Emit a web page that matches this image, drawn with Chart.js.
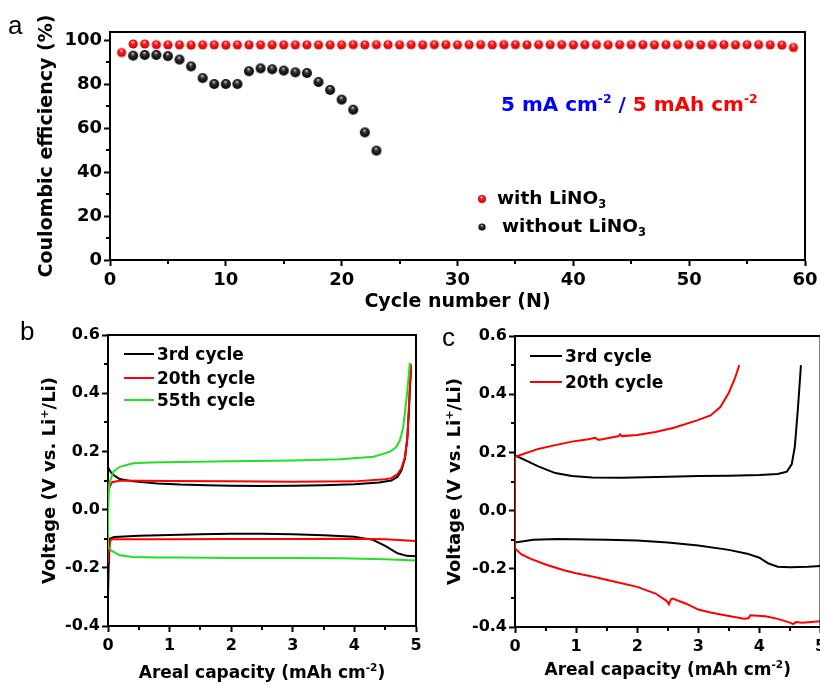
<!DOCTYPE html>
<html>
<head>
<meta charset="utf-8">
<script src="https://cdn.jsdelivr.net/npm/chart.js@4.4.0/dist/chart.umd.min.js"></script>
<style>
  html, body { margin: 0; padding: 0; background: #fff; }
  #page { position: relative; width: 820px; height: 686px; overflow: hidden; background: #fff; }
  canvas { position: absolute; }
</style>
</head>
<body>
<div id="page">
  <canvas id="chartA" width="820" height="320" style="left:0;top:0"></canvas>
  <canvas id="chartB" width="430" height="366" style="left:0;top:320px"></canvas>
  <canvas id="chartC" width="420" height="366" style="left:420px;top:320px"></canvas>
</div>
<script>
// ---------- (a) Coulombic efficiency vs cycle number ----------
const cycleWith = [1,2,3,4,5,6,7,8,9,10,11,12,13,14,15,16,17,18,19,20,
  21,22,23,24,25,26,27,28,29,30,31,32,33,34,35,36,37,38,39,40,
  41,42,43,44,45,46,47,48,49,50,51,52,53,54,55,56,57,58,59];
const ceWithLiNO3 = [94.3,98.2,98.2,97.9,97.8,97.8,97.7,97.8,97.8,97.7,
  97.8,97.8,97.8,97.8,97.8,97.8,97.8,97.8,97.8,97.8,
  97.9,97.8,97.9,97.9,97.8,97.9,97.8,97.9,97.9,97.8,
  97.9,97.9,97.8,97.9,97.9,97.8,97.9,97.9,97.9,97.8,
  97.9,97.9,97.8,97.9,97.9,97.9,97.8,97.9,97.9,97.9,
  97.8,97.9,97.9,97.8,97.9,97.9,97.8,97.7,96.6];
const cycleWithout = [2,3,4,5,6,7,8,9,10,11,12,13,14,15,16,17,18,19,20,21,22,23];
const ceWithoutLiNO3 = [92.9,93.2,93.2,92.7,91.1,88.0,82.7,80.0,80.0,80.0,
  85.8,87.1,86.7,86.1,85.3,85.0,80.9,77.3,72.9,68.3,58.0,49.7];
const cycleTicks = [0,10,20,30,40,50,60];
const ceTicks = [0,20,40,60,80,100];

// ---------- (b) voltage profiles with LiNO3 ----------
const b3DisCap = [0,0.01,0.03,0.1,0.5,1.0,1.5,2.0,2.5,3.0,3.5,4.0,4.3,4.5,4.7,4.85,5.0];
const b3DisV   = [-0.30,-0.20,-0.10,-0.094,-0.09,-0.087,-0.085,-0.083,-0.083,-0.085,-0.088,-0.093,-0.104,-0.125,-0.15,-0.159,-0.16];
const b3ChgCap = [0,0.04,0.09,0.19,0.41,0.8,1.17,1.6,2.0,2.5,3.0,3.5,4.0,4.4,4.6,4.7,4.76,4.82,4.86,4.88,4.9,4.92];
const b3ChgV   = [0.145,0.13,0.119,0.105,0.097,0.09,0.086,0.084,0.082,0.081,0.082,0.084,0.087,0.093,0.1,0.113,0.132,0.175,0.245,0.32,0.41,0.49];

const b20DisCap = [0,0.02,0.05,0.2,1.0,2.0,3.0,4.0,4.5,5.0];
const b20DisV   = [-0.183,-0.12,-0.102,-0.102,-0.102,-0.101,-0.101,-0.1,-0.102,-0.108];
const b20ChgCap = [0,0.03,0.065,0.19,0.5,1.0,2.0,3.0,4.0,4.5,4.6,4.7,4.76,4.82,4.86,4.88,4.9,4.92];
const b20ChgV   = [0.056,0.08,0.094,0.099,0.099,0.098,0.097,0.096,0.097,0.104,0.108,0.122,0.14,0.18,0.25,0.33,0.42,0.5];

const b55DisCap = [0,0.05,0.19,0.41,0.8,1.17,2.0,3.0,3.77,4.5,5.0];
const b55DisV   = [-0.128,-0.14,-0.157,-0.163,-0.165,-0.165,-0.166,-0.166,-0.167,-0.171,-0.175];
const b55ChgCap = [0,0.02,0.086,0.19,0.41,0.68,1.17,2.0,3.0,3.77,4.31,4.58,4.68,4.74,4.79,4.82,4.85,4.875,4.9];
const b55ChgV   = [0.0,0.09,0.13,0.147,0.159,0.162,0.164,0.166,0.169,0.173,0.182,0.199,0.215,0.239,0.28,0.332,0.39,0.445,0.505];

// ---------- (c) voltage profiles without LiNO3 ----------
const c3DisCap = [0,0.3,0.7,1.5,2.0,2.5,3.0,3.5,3.8,4.0,4.15,4.3,4.5,4.8,5.0];
const c3DisV   = [-0.11,-0.1,-0.098,-0.1,-0.103,-0.11,-0.12,-0.135,-0.148,-0.162,-0.182,-0.193,-0.195,-0.193,-0.19];
const c3ChgCap = [0,0.15,0.38,0.66,0.93,1.26,1.75,2.5,3.0,3.5,4.0,4.3,4.45,4.53,4.58,4.63,4.68];
const c3ChgV   = [0.19,0.175,0.152,0.129,0.119,0.114,0.113,0.116,0.119,0.12,0.122,0.126,0.134,0.16,0.22,0.35,0.5];

const c20DisCap = [0,0.1,0.25,0.5,0.8,1.0,1.3,1.6,2.0,2.3,2.48,2.52,2.55,2.58,2.8,3.0,3.2,3.5,3.75,3.82,3.85,4.1,4.3,4.5,4.55,4.6,4.7,5.0];
const c20DisV   = [-0.13,-0.15,-0.165,-0.185,-0.205,-0.215,-0.228,-0.243,-0.262,-0.285,-0.31,-0.322,-0.305,-0.302,-0.32,-0.34,-0.35,-0.362,-0.372,-0.37,-0.36,-0.363,-0.372,-0.385,-0.39,-0.383,-0.385,-0.38];
const c20ChgCap = [0,0.1,0.38,0.66,0.93,1.2,1.31,1.37,1.45,1.7,1.72,1.75,2.0,2.3,2.6,2.98,3.2,3.36,3.5,3.6,3.67];
const c20ChgV   = [0.185,0.192,0.212,0.225,0.237,0.245,0.25,0.243,0.246,0.256,0.262,0.256,0.26,0.27,0.285,0.31,0.327,0.356,0.405,0.455,0.5];

const capTicks = [0,1,2,3,4,5];
const voltTicks = [-0.4,-0.2,0.0,0.2,0.4,0.6];

// ---------- helpers ----------
const FAM = "'DejaVu Sans', 'Liberation Sans', sans-serif";
const BLACK = '#000000', RED = '#ff0000', GREEN = '#22e022', BLUE = '#0000ff';

function fontStr(size, weight) { return (weight || 'bold') + ' ' + size + 'px ' + FAM; }

// text made of runs; a run may be raised ('sup') or lowered ('sub')
function drawRich(ctx, parts, x, baseY, size, align) {
  ctx.textBaseline = 'alphabetic';
  ctx.textAlign = 'left';
  const runs = parts.map(p => {
    const s = p.s ? size * 0.62 : size;
    ctx.font = fontStr(s);
    return { p, s, w: ctx.measureText(p.t).width };
  });
  const total = runs.reduce((a, r) => a + r.w, 0);
  let cx = align === 'center' ? x - total / 2 : (align === 'right' ? x - total : x);
  runs.forEach(r => {
    ctx.font = fontStr(r.s);
    ctx.fillStyle = r.p.c || BLACK;
    const dy = r.p.s === 'sup' ? -size * 0.42 : (r.p.s === 'sub' ? size * 0.24 : 0);
    ctx.fillText(r.p.t, cx, baseY + dy);
    cx += r.w;
  });
}
function drawVertical(ctx, parts, cx, cy, size) {
  ctx.save();
  ctx.translate(cx, cy);
  ctx.rotate(-Math.PI / 2);
  drawRich(ctx, parts, 0, size * 0.36, size, 'center');
  ctx.restore();
}
function drawLetter(ctx, t, x, baseY, size) {
  ctx.font = 'normal ' + size + "px 'Liberation Sans', Arial, sans-serif";
  ctx.fillStyle = BLACK;
  ctx.textAlign = 'left';
  ctx.textBaseline = 'alphabetic';
  ctx.fillText(t, x, baseY);
}

function makeBall(r, light, mid, edge) {
  const s = Math.ceil(r * 2) + 2;
  const cv = document.createElement('canvas');
  cv.width = cv.height = s;
  const g = cv.getContext('2d');
  const c = s / 2;
  const grad = g.createRadialGradient(c - r * 0.1, c - r * 0.5, r * 0.05, c, c, r);
  grad.addColorStop(0, light);
  grad.addColorStop(0.35, mid);
  grad.addColorStop(1, edge);
  g.fillStyle = grad;
  g.beginPath(); g.arc(c, c, r, 0, Math.PI * 2); g.fill();
  return cv;
}
const redBall = makeBall(4.6, '#ffd6d6', '#ff2020', '#cc0000');
const blackBall = makeBall(5.0, '#d0d0d0', '#333333', '#000000');
const redBallSmall = makeBall(4.0, '#ffd6d6', '#ff2020', '#cc0000');
const blackBallSmall = makeBall(3.6, '#d0d0d0', '#333333', '#000000');

// discharge drawn back to zero, then charge outward: one trace per cycle
function loopPoints(disCap, disV, chgCap, chgV) {
  const pts = [];
  for (let i = disCap.length - 1; i >= 0; i--) pts.push({ x: disCap[i], y: disV[i] });
  for (let i = 0; i < chgCap.length; i++) pts.push({ x: chgCap[i], y: chgV[i] });
  return pts;
}

function zeroPad(s) { s.paddingLeft = 0; s.paddingRight = 0; s.paddingTop = 0; s.paddingBottom = 0; }

function axis(opts) {
  return {
    type: 'linear',
    min: opts.min, max: opts.max,
    afterFit(s) {
      if (opts.width !== undefined) s.width = opts.width;
      if (opts.height !== undefined) s.height = opts.height;
      zeroPad(s);
    },
    afterBuildTicks(s) { s.ticks = opts.ticks.map(v => ({ value: v })); },
    ticks: {
      color: BLACK, padding: opts.pad, autoSkip: false, maxRotation: 0, includeBounds: false,
      font: { family: FAM, size: opts.fontSize, weight: 'bold' },
      callback: opts.fmt
    },
    grid: { display: true, drawOnChartArea: false, drawTicks: true, tickLength: 6, tickWidth: 2, tickColor: BLACK },
    border: { display: true, width: 2, color: BLACK }
  };
}

// frame, minor ticks and text for each panel
function decoPlugin(minorX, minorY, drawText) {
  return {
    id: 'deco',
    afterDraw(chart) {
      const ctx = chart.ctx, a = chart.chartArea, sx = chart.scales.x, sy = chart.scales.y;
      ctx.save();
      ctx.strokeStyle = BLACK;
      ctx.lineWidth = 2;
      ctx.lineCap = 'square';
      ctx.beginPath();
      ctx.moveTo(a.left, a.top); ctx.lineTo(a.right, a.top); ctx.lineTo(a.right, a.bottom);
      ctx.stroke();
      ctx.lineCap = 'butt';
      ctx.beginPath();
      for (let v = sx.min + minorX / 2; v < sx.max; v += minorX) {
        const px = Math.round(sx.getPixelForValue(v));
        ctx.moveTo(px, a.bottom); ctx.lineTo(px, a.bottom + 4);
      }
      for (let v = sy.min + minorY / 2; v < sy.max; v += minorY) {
        const py = Math.round(sy.getPixelForValue(v));
        ctx.moveTo(a.left, py); ctx.lineTo(a.left - 4, py);
      }
      ctx.stroke();
      drawText(ctx, chart);
      ctx.restore();
    }
  };
}

function voltFmt(v) { return Math.abs(v) < 1e-9 ? '0.0' : Number(v).toFixed(1); }

const voltTitle = [{ t: 'Voltage (V vs. Li' }, { t: '+', s: 'sup' }, { t: '/Li)' }];
const capTitle = [{ t: 'Areal capacity (mAh cm' }, { t: '-2', s: 'sup' }, { t: ')' }];

function legendLines(ctx, items, x0, x1, tx, size) {
  items.forEach(it => {
    ctx.strokeStyle = it.c; ctx.lineWidth = 2;
    ctx.beginPath(); ctx.moveTo(x0, it.y); ctx.lineTo(x1, it.y); ctx.stroke();
    drawRich(ctx, [{ t: it.t }], tx, it.y + size * 0.36, size, 'left');
  });
}

Chart.defaults.animation = false;

// ---------- chart (a) ----------
new Chart(document.getElementById('chartA'), {
  type: 'scatter',
  data: {
    datasets: [
      { label: 'with LiNO3', order: 0, pointStyle: redBall, pointRadius: 5,
        data: cycleWith.map((c, i) => ({ x: c, y: ceWithLiNO3[i] })) },
      { label: 'without LiNO3', order: 1, pointStyle: blackBall, pointRadius: 5,
        data: cycleWithout.map((c, i) => ({ x: c, y: ceWithoutLiNO3[i] })) }
    ]
  },
  options: {
    responsive: false,
    layout: { padding: { left: 0, top: 32, right: 15, bottom: 0 } },
    plugins: { legend: { display: false }, tooltip: { enabled: false } },
    scales: {
      x: axis({ min: 0, max: 60, ticks: cycleTicks, height: 60, pad: 4, fontSize: 18 }),
      y: axis({ min: 0, max: 103.64, ticks: ceTicks, width: 110, pad: 2, fontSize: 18 })
    }
  },
  plugins: [decoPlugin(10, 20, (ctx, chart) => {
    const a = chart.chartArea;
    drawLetter(ctx, 'a', 8, 34, 26);
    drawVertical(ctx, [{ t: 'Coulombic efficiency (%)' }], 45, (a.top + a.bottom) / 2, 19);
    drawRich(ctx, [{ t: 'Cycle number (N)' }], (a.left + a.right) / 2, 307, 19, 'center');
    drawRich(ctx, [
      { t: '5 mA cm', c: BLUE }, { t: '-2', s: 'sup', c: BLUE }, { t: ' / ', c: BLUE },
      { t: '5 mAh cm', c: RED }, { t: '-2', s: 'sup', c: RED }
    ], 501, 111, 20, 'left');
    ctx.drawImage(redBallSmall, 482 - redBallSmall.width / 2, 199 - redBallSmall.height / 2);
    ctx.drawImage(blackBallSmall, 482 - blackBallSmall.width / 2, 227 - blackBallSmall.height / 2);
    drawRich(ctx, [{ t: 'with LiNO' }, { t: '3', s: 'sub' }], 497, 204, 18.5, 'left');
    drawRich(ctx, [{ t: 'without LiNO' }, { t: '3', s: 'sub' }], 502, 232, 18.5, 'left');
  })]
});

// ---------- chart (b) ----------
new Chart(document.getElementById('chartB'), {
  type: 'scatter',
  data: {
    datasets: [
      { label: '3rd cycle', order: 2, showLine: true, borderColor: BLACK, borderWidth: 2, pointRadius: 0,
        data: loopPoints(b3DisCap, b3DisV, b3ChgCap, b3ChgV) },
      { label: '20th cycle', order: 1, showLine: true, borderColor: RED, borderWidth: 2, pointRadius: 0,
        data: loopPoints(b20DisCap, b20DisV, b20ChgCap, b20ChgV) },
      { label: '55th cycle', order: 0, showLine: true, borderColor: GREEN, borderWidth: 2, pointRadius: 0,
        data: loopPoints(b55DisCap, b55DisV, b55ChgCap, b55ChgV) }
    ]
  },
  options: {
    responsive: false,
    layout: { padding: { left: 0, top: 15, right: 14, bottom: 0 } },
    plugins: { legend: { display: false }, tooltip: { enabled: false } },
    scales: {
      x: axis({ min: 0, max: 5, ticks: capTicks, height: 60, pad: 4, fontSize: 16 }),
      y: axis({ min: -0.4, max: 0.6, ticks: voltTicks, width: 108, pad: 2, fontSize: 16, fmt: voltFmt })
    }
  },
  plugins: [decoPlugin(1, 0.2, (ctx, chart) => {
    const a = chart.chartArea;
    drawLetter(ctx, 'b', 20, 20, 26);
    drawVertical(ctx, voltTitle, 49, (a.top + a.bottom) / 2, 18);
    drawRich(ctx, capTitle, (a.left + a.right) / 2, 358, 17, 'center');
    const ds = chart.data.datasets;
    legendLines(ctx, [
      { t: ds[0].label, c: ds[0].borderColor, y: 34 },
      { t: ds[1].label, c: ds[1].borderColor, y: 58 },
      { t: ds[2].label, c: ds[2].borderColor, y: 80 }
    ], 124, 154, 157, 17);
  })]
});

// ---------- chart (c) ----------
new Chart(document.getElementById('chartC'), {
  type: 'scatter',
  data: {
    datasets: [
      { label: '3rd cycle', order: 1, showLine: true, borderColor: BLACK, borderWidth: 2, pointRadius: 0,
        data: loopPoints(c3DisCap, c3DisV, c3ChgCap, c3ChgV) },
      { label: '20th cycle', order: 0, showLine: true, borderColor: RED, borderWidth: 2, pointRadius: 0,
        data: loopPoints(c20DisCap, c20DisV, c20ChgCap, c20ChgV) }
    ]
  },
  options: {
    responsive: false,
    layout: { padding: { left: 0, top: 16, right: 19.5, bottom: 0 } },
    plugins: { legend: { display: false }, tooltip: { enabled: false } },
    scales: {
      x: axis({ min: 0, max: 5, ticks: capTicks, height: 59, pad: 4, fontSize: 16 }),
      y: axis({ min: -0.4, max: 0.6, ticks: voltTicks, width: 95, pad: 2, fontSize: 16, fmt: voltFmt })
    }
  },
  plugins: [decoPlugin(1, 0.2, (ctx, chart) => {
    const a = chart.chartArea;
    drawLetter(ctx, 'c', 22, 26, 26);
    drawVertical(ctx, voltTitle, 34, (a.top + a.bottom) / 2, 18);
    drawRich(ctx, capTitle, (a.left + a.right) / 2, 355, 17, 'center');
    const ds = chart.data.datasets;
    legendLines(ctx, [
      { t: ds[0].label, c: ds[0].borderColor, y: 36 },
      { t: ds[1].label, c: ds[1].borderColor, y: 62 }
    ], 110, 142, 145, 17);
  })]
});
</script>
</body>
</html>
